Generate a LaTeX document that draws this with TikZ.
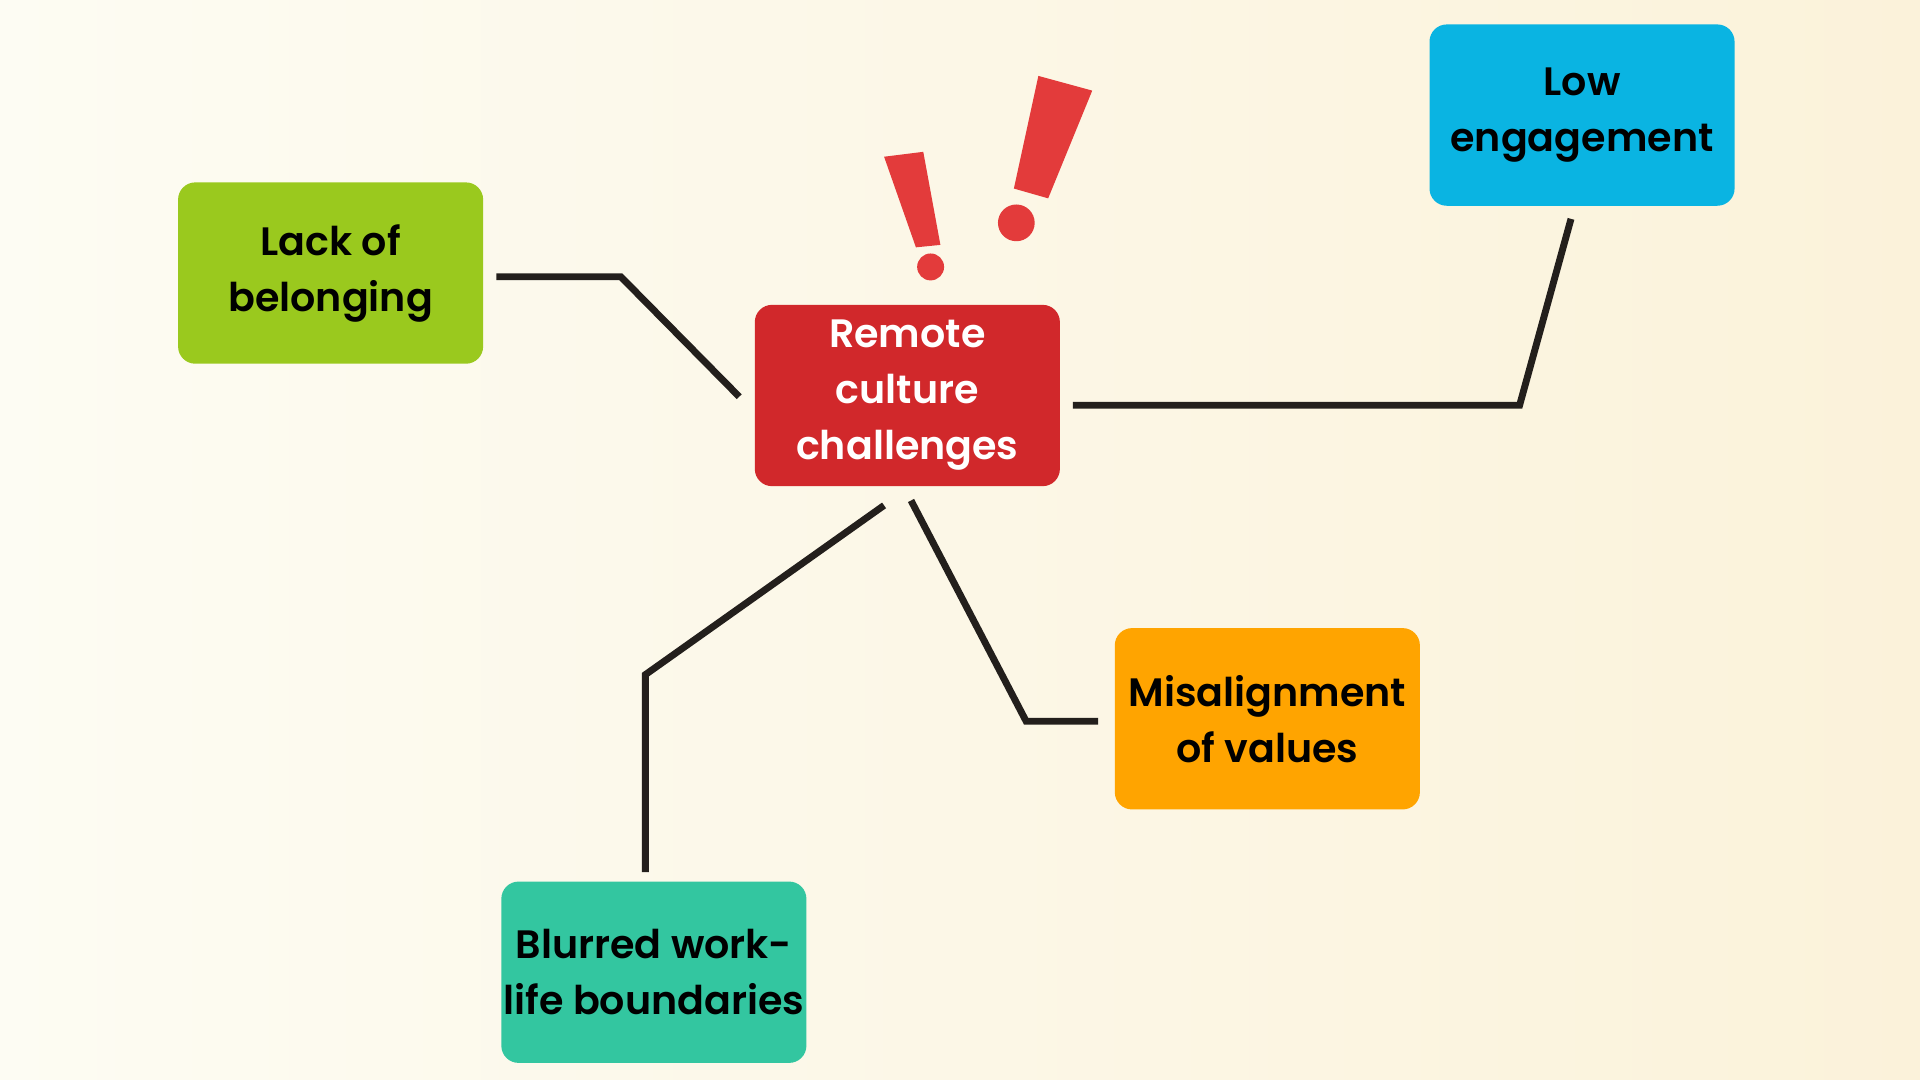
\documentclass[tikz,border=0pt]{standalone}
\usepackage{fontspec}
\setmainfont{Poppins}[BoldFont={* SemiBold}]
\usetikzlibrary{positioning}
\definecolor{bgA}{HTML}{FDFCF3}
\definecolor{bgB}{HTML}{FBF2DA}
\definecolor{cgreen}{HTML}{9AC91E}
\definecolor{cred}{HTML}{D1282B}
\definecolor{cblue}{HTML}{0AB4E2}
\definecolor{corange}{HTML}{FFA400}
\definecolor{cteal}{HTML}{33C6A0}
\definecolor{cmark}{HTML}{E33B3B}
\definecolor{cline}{HTML}{231F1C}
\tikzset{
  card/.style={rounded corners=4pt, inner sep=0pt, minimum width=2.49cm, minimum height=1.48cm,
    align=center, font=\fontsize{9.2}{13}\selectfont\bfseries, text=black},
  link/.style={cline, line width=1.6pt}
}
\begin{document}
\begin{tikzpicture}[x=0.01cm,y=-0.01cm]
\shade[left color=bgA, right color=bgB] (0,0) rectangle (1568,882);
\useasboundingbox (0,0) rectangle (1568,882);

\node[card, fill=cgreen] (lack) at (270,223) {Lack of\\belonging};
\node[card, fill=cred, text=white] (remote) at (741,323) {Remote\\culture\\challenges};
\node[card, fill=cblue] (low) at (1292,94) {Low\\engagement};
\node[card, fill=corange] (mis) at (1035,587) {Misalignment\\of values};
\node[card, fill=cteal] (blur) at (534,794) {Blurred work-\\life boundaries};

% exclamation marks
\fill[cmark] (722,128) -- (754,124) -- (768,200) -- (748,202) -- cycle;
\fill[cmark] (760,218) circle (11);
\fill[cmark] (848,62) -- (892,74) -- (856,162) -- (828,154) -- cycle;
\fill[cmark] (830,182) circle (15);

% connectors
\draw[link] ([shift={(10,3)}]lack.east) -- (507,226) -- ([shift={(-12,1)}]remote.west);
\draw[link] ([shift={(10,8)}]remote.east) -- (1241,331) -- ([shift={(-9,10)}]low.south);
\draw[link] ([shift={(3,11)}]remote.south) -- (838,589) -- ([shift={(-13,2)}]mis.west);
\draw[link] ([shift={(-19,15)}]remote.south) -- (527,551) -- ([shift={(-7,-7)}]blur.north);
\end{tikzpicture}
\end{document}
